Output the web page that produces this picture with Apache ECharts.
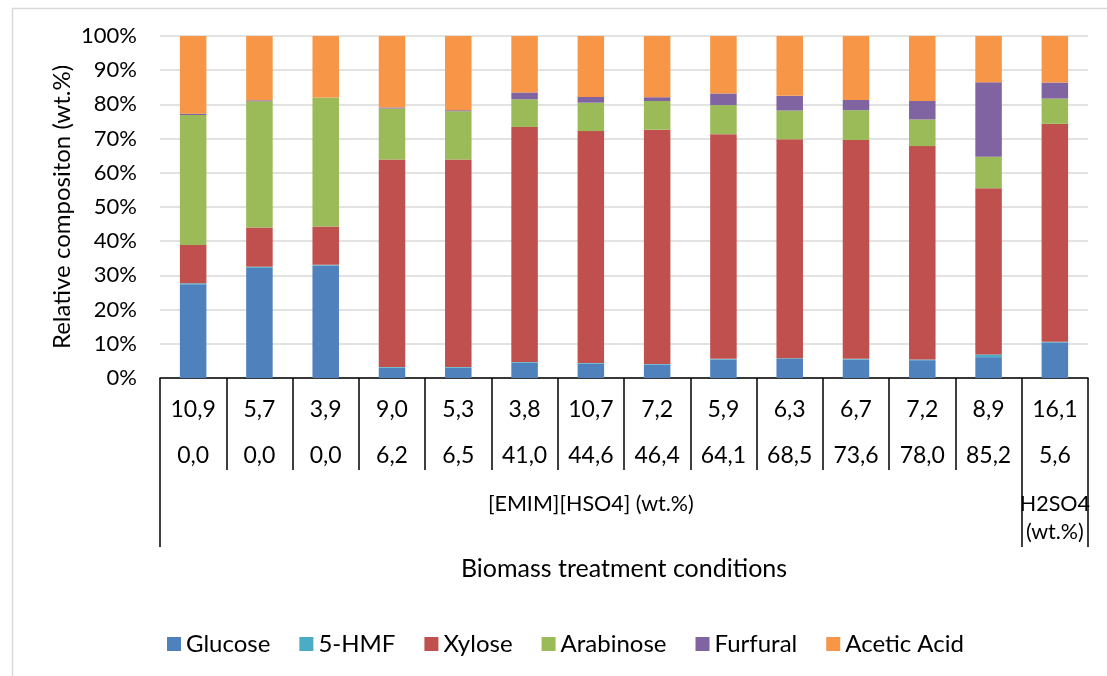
<!DOCTYPE html>
<html>
<head>
<meta charset="utf-8">
<script src="https://cdn.jsdelivr.net/npm/echarts@6/dist/echarts.min.js"></script>
<style>
  html, body { margin: 0; padding: 0; background: #fff; }
  #chart { width: 1107px; height: 676px; }
</style>
</head>
<body>
<div id="chart"></div>
<script>
// two label rows under the bars (values in wt.%)
const row1 = ['10,9', '5,7', '3,9', '9,0', '5,3', '3,8', '10,7', '7,2', '5,9', '6,3', '6,7', '7,2', '8,9', '16,1']
const row2 = ['0,0', '0,0', '0,0', '6,2', '6,5', '41,0', '44,6', '46,4', '64,1', '68,5', '73,6', '78,0', '85,2', '5,6']
// third row: group name and how many bars it covers
const groupNames = ['[EMIM][HSO4] (wt.%)', 'H2SO4\n(wt.%)']
const groupSizes = [13, 1]

const glucose   = [27.4, 32.2, 32.9, 3.0, 3.0, 4.5, 4.2, 3.9, 5.4, 5.6, 5.4, 5.2, 6.1, 10.4]
const hmf       = [0.3, 0.3, 0.2, 0.2, 0.2, 0.2, 0.2, 0.2, 0.2, 0.2, 0.2, 0.2, 0.8, 0.2]
const xylose    = [11.2, 11.5, 11.2, 60.7, 60.7, 68.7, 67.8, 68.5, 65.7, 64.0, 64.0, 62.4, 48.6, 63.7]
const arabinose = [38.0, 36.9, 37.7, 14.9, 14.1, 8.1, 8.3, 8.4, 8.5, 8.4, 8.7, 7.8, 9.2, 7.4]
const furfural  = [0.4, 0.3, 0.0, 0.3, 0.3, 2.0, 1.7, 1.1, 3.4, 4.3, 3.0, 5.4, 21.8, 4.7]
const acetic    = [22.7, 18.8, 18.0, 20.9, 21.7, 16.5, 17.8, 17.9, 16.8, 17.5, 18.7, 19.0, 13.5, 13.6]

const seriesNames = ['Glucose', '5-HMF', 'Xylose', 'Arabinose', 'Furfural', 'Acetic Acid']
const seriesData = [glucose, hmf, xylose, arabinose, furfural, acetic]
const colors = ['#4f81bd', '#4bacc6', '#c0504d', '#9bbb59', '#8064a2', '#f79646']

const FONT = 'Lato'

// categories for the first axis = row1 + row2
const cats = row1.map((v, i) => v + '\n' + row2[i])

// second axis: label at middle of each group, ticks at group starts
const groupCats = []
const groupStarts = []
let pos = 0
groupSizes.forEach((n, g) => {
  groupStarts.push(pos)
  for (let k = 0; k < n; k++) {
    groupCats.push(k === Math.floor((n - 1) / 2) ? groupNames[g] : '')
  }
  pos += n
})

var chart = echarts.init(document.getElementById('chart'))

var option = {
  animation: false,
  color: colors,
  textStyle: { fontFamily: FONT },
  graphic: [{
    type: 'rect',
    left: 10, top: 6,
    shape: { width: 1110, height: 700 },
    style: { fill: 'none', stroke: '#d9d9d9', lineWidth: 1.5 },
    silent: true
  }],
  grid: {
    left: 160, right: 19, top: 36, bottom: 298,
    containLabel: false,
    outerBoundsMode: 'none'
  },
  legend: {
    left: 162, top: 627,
    icon: 'rect',
    itemWidth: 14, itemHeight: 14,
    itemGap: 29,
    textStyle: { fontFamily: FONT, fontSize: 24, color: '#000' },
    data: seriesNames
  },
  xAxis: [{
    type: 'category',
    data: cats,
    position: 'bottom',
    axisLine: { show: true, lineStyle: { color: '#000', width: 1.5 } },
    axisTick: { show: true, interval: 0, length: 92, lineStyle: { color: '#000', width: 1.5 } },
    axisLabel: {
      interval: 0, margin: 9, lineHeight: 46,
      fontFamily: FONT, fontSize: 23, color: '#000'
    },
    name: 'Biomass treatment conditions',
    nameLocation: 'middle',
    nameGap: 178,
    nameMoveOverlap: false,
    nameTextStyle: { fontFamily: FONT, fontSize: 25, color: '#000' }
  }, {
    type: 'category',
    data: groupCats,
    position: 'bottom',
    axisLine: { show: false },
    axisTick: {
      show: true,
      interval: (idx) => groupStarts.indexOf(idx) >= 0,
      length: 169,
      lineStyle: { color: '#000', width: 1.5 }
    },
    axisLabel: {
      interval: 0, margin: 112, lineHeight: 28,
      fontFamily: FONT, fontSize: 21.5, color: '#000'
    }
  }],
  yAxis: {
    type: 'value',
    min: 0, max: 100, interval: 10,
    axisLine: { show: false },
    axisTick: { show: false },
    axisLabel: {
      formatter: '{value}%', margin: 23,
      fontFamily: FONT, fontSize: 22, color: '#000'
    },
    splitLine: { lineStyle: { color: '#d9d9d9', width: 1.5 } },
    name: 'Relative compositon (wt.%)',
    nameLocation: 'middle',
    nameGap: 86,
    nameMoveOverlap: false,
    nameTextStyle: { fontFamily: FONT, fontSize: 24, color: '#000' }
  },
  series: seriesNames.map((name, i) => ({
    name: name,
    type: 'bar',
    stack: 'total',
    xAxisIndex: 0,
    barWidth: '40%',
    data: seriesData[i]
  }))
}

chart.setOption(option)
</script>
</body>
</html>
